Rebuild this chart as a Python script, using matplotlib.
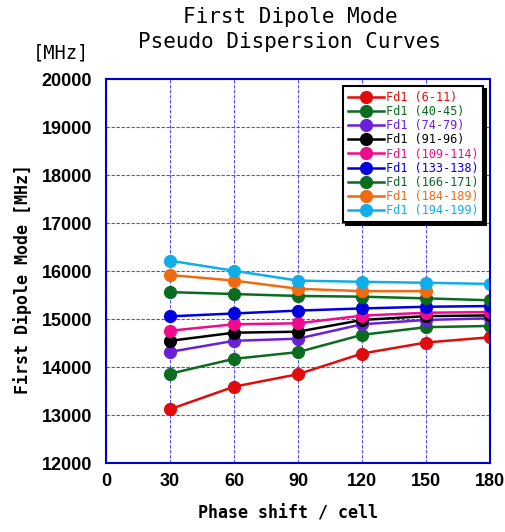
import matplotlib.pyplot as plt

phase = [30, 60, 90, 120, 150, 180]

fd1_6_11 = [13120, 13590, 13850, 14280, 14510, 14620]
fd1_40_45 = [13860, 14170, 14310, 14670, 14830, 14855]
fd1_74_79 = [14315, 14545, 14590, 14890, 14980, 15015]
fd1_91_96 = [14545, 14715, 14735, 14980, 15060, 15075]
fd1_109_114 = [14755, 14890, 14910, 15070, 15130, 15145]
fd1_133_138 = [15055, 15115, 15175, 15220, 15255, 15270]
fd1_166_171 = [15560, 15520, 15480, 15465, 15430, 15390]
fd1_184_189 = [15915, 15800, 15630, 15580, 15580]
fd1_194_199 = [16215, 16005, 15800, 15775, 15755, 15730]

labels = ['Fd1 (6-11)', 'Fd1 (40-45)', 'Fd1 (74-79)', 'Fd1 (91-96)', 'Fd1 (109-114)',
          'Fd1 (133-138)', 'Fd1 (166-171)', 'Fd1 (184-189)', 'Fd1 (194-199)']
colors = ['#e00c0c', '#0b6b1e', '#6a20d8', '#000000', '#ee0c8c',
          '#0000dd', '#0b6b1e', '#f06a10', '#10aee8']
series = [fd1_6_11, fd1_40_45, fd1_74_79, fd1_91_96, fd1_109_114,
          fd1_133_138, fd1_166_171, fd1_184_189, fd1_194_199]

fig = plt.figure(figsize=(5.06, 5.32), dpi=100)
ax = fig.add_axes([106 / 506, 1 - 463 / 532, 384 / 506, 384 / 532])

for ys, c, lab in zip(series, colors, labels):
    ax.plot(phase[:len(ys)], ys, color=c, lw=1.8, marker='o', ms=8.5, label=lab)

ax.set_xlim(0, 180)
ax.set_ylim(12000, 20000)
ax.set_xticks(range(0, 181, 30))
ax.set_yticks(range(12000, 20001, 1000))
ax.grid(True, color='#4a4aff', ls=(0, (3, 1.5)), lw=0.8)
for s in ax.spines.values():
    s.set_color('#0000cc')
    s.set_linewidth(1.5)
ax.tick_params(axis='y', length=0, pad=10)
ax.tick_params(axis='x', length=0, pad=7)
for t in ax.get_xticklabels() + ax.get_yticklabels():
    t.set_fontweight('bold')
    t.set_family('Liberation Sans')
    t.set_fontsize(13)

ax.set_xlabel('Phase shift / cell', fontsize=12, fontweight='bold', family='DejaVu Sans Mono')
ax.xaxis.set_label_coords((288 - 106) / 384, -(514 - 463) / 384)
ax.set_ylabel('First Dipole Mode [MHz]', fontsize=12, fontweight='bold', family='DejaVu Sans Mono')
ax.yaxis.set_label_coords(-(106 - 23) / 384, (463 - 279) / 384)
ax.xaxis.label.set_va('center')
ax.yaxis.label.set_va('center')

fig.text(290 / 506, 1 - 17 / 532, 'First Dipole Mode', ha='center', va='center',
         fontsize=15, family='DejaVu Sans Mono')
fig.text(290 / 506, 1 - 42 / 532, 'Pseudo Dispersion Curves', ha='center', va='center',
         fontsize=15, family='DejaVu Sans Mono')
fig.text(61 / 506, 1 - 53 / 532, '[MHz]', ha='center', va='center',
         fontsize=13.5, family='DejaVu Sans Mono')

leg = ax.legend(loc='upper left', bbox_to_anchor=((343 - 106) / 384, (463 - 86) / 384),
                borderaxespad=0, handlelength=3.0, handletextpad=0.2, labelspacing=0.1,
                borderpad=0.4, frameon=True, fancybox=False,
                shadow={'color': 'black', 'alpha': 1},
                prop={'family': 'DejaVu Sans Mono', 'size': 8.6})
leg.get_frame().set_edgecolor('black')
leg.get_frame().set_linewidth(1.5)
leg.get_frame().set_alpha(1)
for txt, c in zip(leg.get_texts(), colors):
    txt.set_color(c)

fig.savefig('out.png', dpi=100)
